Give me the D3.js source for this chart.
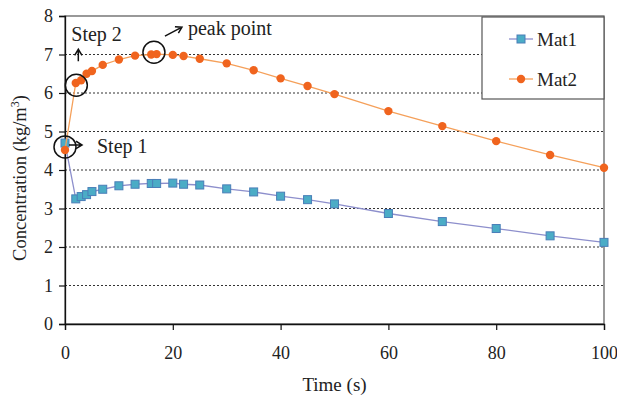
<!DOCTYPE html>
<html>
<head>
<meta charset="utf-8">
<script src="https://cdn.jsdelivr.net/npm/d3@7"></script>
<style>
  body { margin: 0; background: #fff; }
  svg text { font-family: "Liberation Serif", "DejaVu Serif", serif; fill: #222; }
</style>
</head>
<body>
<div id="chart"></div>
<script>
// data
const times = [0, 2, 3, 4, 5, 7, 10, 13, 16, 17, 20, 22, 25, 30, 35, 40, 45, 50, 60, 70, 80, 90, 100];
const mat1  = [4.70, 3.25, 3.31, 3.36, 3.44, 3.50, 3.59, 3.63, 3.65, 3.65, 3.66, 3.63, 3.61, 3.51, 3.43, 3.32, 3.23, 3.12, 2.87, 2.66, 2.48, 2.29, 2.12];
const mat2  = [4.52, 6.26, 6.33, 6.50, 6.57, 6.73, 6.87, 6.97, 7.00, 7.01, 6.99, 6.96, 6.89, 6.77, 6.59, 6.38, 6.18, 5.97, 5.53, 5.14, 4.75, 4.39, 4.06];
const xTicks = [0, 20, 40, 60, 80, 100];
const yTicks = [0, 1, 2, 3, 4, 5, 6, 7, 8];
const seriesNames = ['Mat1', 'Mat2'];
// circled points
const notes = [
  { t: 0,    v: 4.60, label: 'Step 1' },
  { t: 2.1,  v: 6.20, label: 'Step 2' },
  { t: 16.5, v: 7.06, label: 'peak point' }
];

const FONT = '"Liberation Serif", "DejaVu Serif", serif';
const width = 617, height = 397;
const margin = { top: 16, right: 13, bottom: 73, left: 65 };
const iw = width - margin.left - margin.right;
const ih = height - margin.top - margin.bottom;

const svg = d3.select('#chart').append('svg')
    .attr('width', width)
    .attr('height', height)
    .attr('font-family', FONT);

const g = svg.append('g')
    .attr('transform', `translate(${margin.left},${margin.top})`);

const x = d3.scaleLinear().domain([0, 100]).range([0, iw]);
const y = d3.scaleLinear().domain([0, 8]).range([ih, 0]);

// gridlines
g.append('g')
  .selectAll('line')
  .data(yTicks.filter(d => d > 0 && d < 8))
  .join('line')
    .attr('x1', 0).attr('x2', iw)
    .attr('y1', d => y(d)).attr('y2', d => y(d))
    .attr('stroke', '#333')
    .attr('stroke-width', 1.1)
    .attr('stroke-dasharray', '2,2');

// frame
g.append('rect')
    .attr('width', iw).attr('height', ih)
    .attr('fill', 'none')
    .attr('stroke', '#555')
    .attr('stroke-width', 1.2);

// axes
const xAxis = g.append('g')
    .attr('transform', `translate(0,${ih})`)
    .call(d3.axisBottom(x).tickValues(xTicks).tickSize(6).tickPadding(16));
const yAxis = g.append('g')
    .call(d3.axisLeft(y).tickValues(yTicks).tickSize(6).tickPadding(6));

[xAxis, yAxis].forEach(a => {
  a.attr('font-family', FONT).attr('font-size', 18);
  a.select('.domain').attr('stroke', '#111').attr('stroke-width', 1.3);
  a.selectAll('.tick line').attr('stroke', '#111').attr('stroke-width', 1.2);
  a.selectAll('.tick text').attr('fill', '#222');
});

// series
const series = [
  { name: seriesNames[0], values: mat1, line: '#8d8fcc', fill: '#4bacc6', stroke: '#4a7eb8', shape: 'square' },
  { name: seriesNames[1], values: mat2, line: '#f5a05a', fill: '#f0641e', stroke: '#f0641e', shape: 'circle' }
];

const line = d3.line()
    .x((d, i) => x(times[i]))
    .y(d => y(d));

series.forEach(s => {
  g.append('path')
      .datum(s.values)
      .attr('fill', 'none')
      .attr('stroke', s.line)
      .attr('stroke-width', 1.3)
      .attr('d', line);

  if (s.shape === 'square') {
    g.append('g').selectAll('rect')
      .data(s.values)
      .join('rect')
        .attr('x', (d, i) => x(times[i]) - 4)
        .attr('y', d => y(d) - 4)
        .attr('width', 8).attr('height', 8)
        .attr('fill', s.fill)
        .attr('stroke', s.stroke)
        .attr('stroke-width', 1);
  } else {
    g.append('g').selectAll('circle')
      .data(s.values)
      .join('circle')
        .attr('cx', (d, i) => x(times[i]))
        .attr('cy', d => y(d))
        .attr('r', 4.2)
        .attr('fill', s.fill);
  }
});

// annotations
const ann = g.append('g')
    .attr('stroke', '#111')
    .attr('stroke-width', 1.5)
    .attr('fill', 'none');

notes.forEach(n => {
  ann.append('circle')
      .attr('cx', x(n.t)).attr('cy', y(n.v))
      .attr('r', 11);
});

function arrow(x1, y1, x2, y2) {
  const a = Math.atan2(y2 - y1, x2 - x1);
  const h = 7, w = 0.55;
  ann.append('path')
      .attr('d', `M${x1},${y1}L${x2},${y2}` +
        `M${x2 - h * Math.cos(a - w)},${y2 - h * Math.sin(a - w)}L${x2},${y2}` +
        `L${x2 - h * Math.cos(a + w)},${y2 - h * Math.sin(a + w)}`);
}

function note(n, dx, dy, txt, tdx, tdy) {
  const px = x(n.t), py = y(n.v);
  arrow(px + txt[0], py + txt[1], px + dx, py + dy);
  g.append('text')
      .attr('x', px + tdx).attr('y', py + tdy)
      .attr('font-size', 20)
      .text(n.label);
}

// step 1: arrow to the right, step 2: arrow up, peak: diagonal arrow
note(notes[0], 17, -2, [4, -2], 32, 6);
note(notes[1], 2, -36, [2, -24], -5, -44);
note(notes[2], 28, -25, [11, -16], 34, -17);

// legend
const lg = g.append('g').attr('transform', `translate(${iw - 122},1)`);
lg.append('rect')
    .attr('width', 122).attr('height', 82)
    .attr('fill', '#fff')
    .attr('stroke', '#555')
    .attr('stroke-width', 1.2);

series.forEach((s, i) => {
  const row = lg.append('g').attr('transform', `translate(0,${22 + i * 40})`);
  row.append('line')
      .attr('x1', 27).attr('x2', 51)
      .attr('stroke', s.line).attr('stroke-width', 1.3);
  if (s.shape === 'square') {
    row.append('rect').attr('x', 35).attr('y', -4).attr('width', 8).attr('height', 8)
        .attr('fill', s.fill).attr('stroke', s.stroke);
  } else {
    row.append('circle').attr('cx', 39).attr('r', 4.2).attr('fill', s.fill);
  }
  row.append('text')
      .attr('x', 55).attr('y', 7)
      .attr('font-size', 19)
      .text(s.name);
});

// axis titles
svg.append('text')
    .attr('x', margin.left + iw / 2)
    .attr('y', 391)
    .attr('text-anchor', 'middle')
    .attr('font-size', 19)
    .text('Time (s)');

const yt = svg.append('text')
    .attr('transform', `translate(26,${margin.top + ih / 2 + 8}) rotate(-90)`)
    .attr('text-anchor', 'middle')
    .attr('font-size', 18.5);
yt.append('tspan').text('Concentration (kg/m');
yt.append('tspan').attr('dy', -7).attr('font-size', 12).text('3');
yt.append('tspan').attr('dy', 7).text(')');
</script>
</body>
</html>
